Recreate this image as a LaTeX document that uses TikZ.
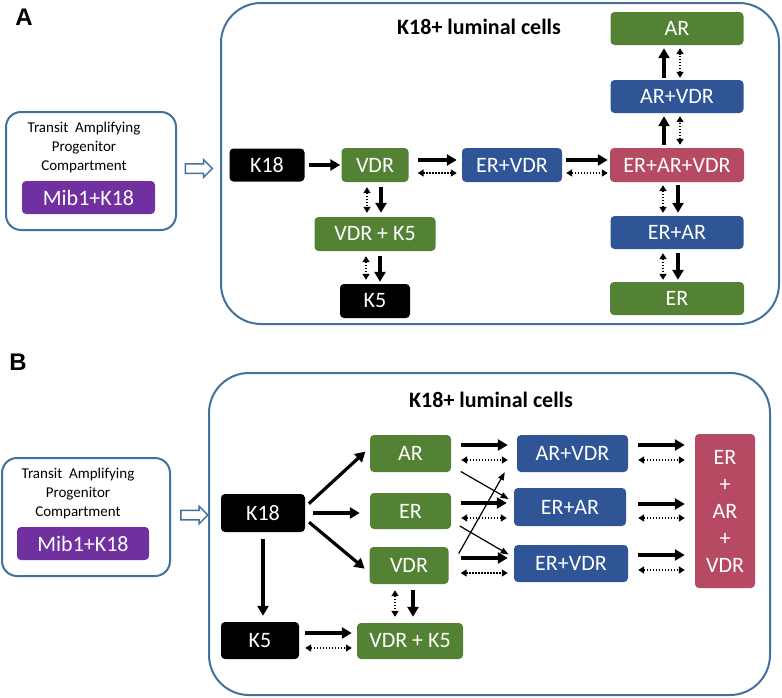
\documentclass[tikz,border=0pt]{standalone}
\usepackage{fontspec}
\setmainfont{Carlito}
\newfontfamily\panelfont{Liberation Sans}
\usepackage{xcolor}
\usetikzlibrary{shapes,arrows,arrows.meta,positioning,fit}
\definecolor{cellgreen}{HTML}{548235}
\definecolor{cellblue}{HTML}{2F5597}
\definecolor{cellred}{HTML}{B64A62}
\definecolor{cellpurple}{HTML}{7030A0}
\definecolor{framecol}{HTML}{41719C}

\begin{document}
\begin{tikzpicture}[
    x=1pt, y=-1pt,
    cell/.style={rectangle, rounded corners=4pt, text=white, inner sep=0pt, font=\fontsize{22}{26}\selectfont},
    greencell/.style={cell, fill=cellgreen},
    bluecell/.style={cell, fill=cellblue},
    redcell/.style={cell, fill=cellred},
    blackcell/.style={cell, fill=black},
    purplecell/.style={cell, fill=cellpurple},
    compartment/.style={rectangle, draw=framecol, line width=2pt, rounded corners=15pt},
    luminal/.style={rectangle, draw=framecol, line width=2pt, rounded corners=40pt},
    hollow/.style={single arrow, draw=framecol, line width=1.5pt, fill=white, inner sep=4pt, minimum width=17pt, minimum height=27pt, single arrow head extend=4pt},
    title/.style={font=\fontsize{22}{24}\selectfont\bfseries},
    panel/.style={font=\fontsize{24}{26}\selectfont\panelfont\bfseries},
    tatext/.style={font=\fontsize{15}{19}\selectfont, align=center},
    arrow/.style={line width=3.2pt, -{Triangle[length=10pt,width=11pt]}},
    twoway/.style={line width=1.8pt, dash pattern=on 1.6pt off 1.4pt, {Triangle[length=6pt,width=7pt]}-{Triangle[length=6pt,width=7pt]}},
    crossarrow/.style={line width=1.2pt, -{Triangle[length=8pt,width=6pt]}}
]
    \useasboundingbox (0,0) rectangle (782,697);

    % Panel A
    \node [panel] (labelA) at (24,17) {A};
    \node [compartment, minimum width=170pt, minimum height=118pt] (tapA) at (91,171) {};
    \node [tatext] (tatextA) at (84,147) {Transit\ \ Amplifying\\Progenitor\\Compartment};
    \node [purplecell, minimum width=133pt, minimum height=33pt] (mibA) at (88.5,197.5) {Mib1+K18};
    \node [hollow] (flowA) at (196.5,168.5) {};
    \node [luminal, minimum width=558pt, minimum height=321pt] (lumA) at (500,163.5) {};
    \node [title] (titleA) at (479,27) {K18+ luminal cells};

    % Row K18 - VDR - ER+VDR - ER+AR+VDR
    \node [blackcell, minimum width=75pt, minimum height=33pt] (k18A) at (267,165) {K18};
    \node [greencell, minimum width=67pt, minimum height=34pt] (vdrA) at (375,165) {VDR};
    \node [bluecell, minimum width=100pt, minimum height=34pt] (ervdrA) at (512,165) {ER+VDR};
    \node [redcell, minimum width=134pt, minimum height=34pt] (eravdrA) at (677,165) {ER+AR+VDR};
    \draw [arrow, shorten <=4pt, shorten >=1pt] (k18A) -- (vdrA);
    \draw [arrow, shorten <=9pt, shorten >=5pt] ([yshift=5pt]vdrA.east) -- ([yshift=5pt]ervdrA.west);
    \draw [twoway, shorten <=9pt, shorten >=5pt] ([yshift=-8pt]vdrA.east) -- ([yshift=-8pt]ervdrA.west);
    \draw [arrow, shorten <=4pt, shorten >=2pt] ([yshift=5pt]ervdrA.east) -- ([yshift=5pt]eravdrA.west);
    \draw [twoway, shorten <=4pt, shorten >=2pt] ([yshift=-8pt]ervdrA.east) -- ([yshift=-8pt]eravdrA.west);

    % Column below VDR
    \node [greencell, minimum width=121pt, minimum height=34pt] (vdrkA) at (375,234) {VDR + K5};
    \node [blackcell, minimum width=70pt, minimum height=34pt] (k5A) at (375,301) {K5};
    \draw [twoway, shorten <=5pt, shorten >=4pt] ([xshift=-8pt]vdrA.south) -- ([xshift=-8pt]vdrkA.north);
    \draw [arrow, shorten <=5pt, shorten >=4pt] ([xshift=6pt]vdrA.south) -- ([xshift=6pt]vdrkA.north);
    \draw [twoway, shorten <=5pt, shorten >=4pt] ([xshift=-9pt]vdrkA.south) -- ([xshift=-9pt]k5A.north);
    \draw [arrow, shorten <=5pt, shorten >=2pt] ([xshift=5pt]vdrkA.south) -- ([xshift=5pt]k5A.north);

    % Column through ER+AR+VDR
    \node [greencell, minimum width=133pt, minimum height=33pt] (arA) at (677,28.5) {AR};
    \node [bluecell, minimum width=133pt, minimum height=33pt] (arvdrA) at (677,96.5) {AR+VDR};
    \node [bluecell, minimum width=133pt, minimum height=33pt] (erarA) at (677,232.5) {ER+AR};
    \node [greencell, minimum width=134pt, minimum height=33pt] (erA) at (677,298.5) {ER};
    \draw [arrow, shorten <=3pt, shorten >=3pt] ([xshift=-13pt]eravdrA.north) -- ([xshift=-13pt]arvdrA.south);
    \draw [twoway, shorten <=3pt, shorten >=3pt] ([xshift=3pt]eravdrA.north) -- ([xshift=3pt]arvdrA.south);
    \draw [arrow, shorten <=2pt, shorten >=3pt] ([xshift=-13pt]arvdrA.north) -- ([xshift=-13pt]arA.south);
    \draw [twoway, shorten <=2pt, shorten >=3pt] ([xshift=3pt]arvdrA.north) -- ([xshift=3pt]arA.south);
    \draw [twoway, shorten <=3pt, shorten >=3pt] ([xshift=-14pt]eravdrA.south) -- ([xshift=-14pt]erarA.north);
    \draw [arrow, shorten <=3pt, shorten >=3pt] ([xshift=1pt]eravdrA.south) -- ([xshift=1pt]erarA.north);
    \draw [twoway, shorten <=4pt, shorten >=2pt] ([xshift=-14pt]erarA.south) -- ([xshift=-14pt]erA.north);
    \draw [arrow, shorten <=4pt, shorten >=2pt] ([xshift=1pt]erarA.south) -- ([xshift=1pt]erA.north);

    % Panel B
    \node [panel] (labelB) at (18,362) {B};
    \node [compartment, minimum width=168pt, minimum height=118pt] (tapB) at (86,517) {};
    \node [tatext] (tatextB) at (78,493) {Transit\ \ Amplifying\\Progenitor\\Compartment};
    \node [purplecell, minimum width=132pt, minimum height=33pt] (mibB) at (83,543.5) {Mib1+K18};
    \node [hollow] (flowB) at (192,515) {};
    \node [luminal, minimum width=561pt, minimum height=322pt] (lumB) at (489.5,534) {};
    \node [title] (titleB) at (491,400) {K18+ luminal cells};

    % Single markers
    \node [blackcell, minimum width=84pt, minimum height=38pt] (k18B) at (263,513) {K18};
    \node [blackcell, minimum width=78pt, minimum height=37pt] (k5B) at (260,640.5) {K5};
    \node [greencell, minimum width=81pt, minimum height=37pt] (arB) at (410.5,453.5) {AR};
    \node [greencell, minimum width=81pt, minimum height=36pt] (erB) at (410.5,511) {ER};
    \node [greencell, minimum width=79pt, minimum height=37pt] (vdrB) at (409,565.5) {VDR};
    \node [greencell, minimum width=106pt, minimum height=36pt] (vdrkB) at (410,641) {VDR + K5};

    % Double markers
    \node [bluecell, minimum width=111pt, minimum height=37pt] (arvdrB) at (572.5,453.5) {AR+VDR};
    \node [bluecell, minimum width=112pt, minimum height=38pt] (erarB) at (570,507) {ER+AR};
    \node [bluecell, minimum width=114pt, minimum height=37pt] (ervdrB) at (571,563.5) {ER+VDR};

    % Triple marker
    \node [redcell, minimum width=60pt, minimum height=154pt, align=center, font=\fontsize{22}{27}\selectfont] (allB) at (725,511) {ER\\+\\AR\\+\\VDR};

    % From K18
    \draw [arrow, shorten <=5pt, shorten >=6pt] ([yshift=6pt]k18B.east) -- ([yshift=6pt]arB.west);
    \draw [arrow, shorten <=8pt, shorten >=10pt] (k18B.east) -- (k18B.east -| erB.west);
    \draw [arrow, shorten <=5pt, shorten >=6pt] ([yshift=-6pt]k18B.east) -- ([yshift=-7pt]vdrB.west);
    \draw [arrow, shorten <=7pt, shorten >=6pt] (k18B.south) -- (k18B.south |- k5B.north);

    % K5 and VDR to VDR + K5
    \draw [arrow, shorten <=6pt, shorten >=5pt] ([yshift=7.5pt]k5B.east) -- ([yshift=7.5pt]k5B.east -| vdrkB.west);
    \draw [twoway, shorten <=6pt, shorten >=5pt] ([yshift=-7.5pt]k5B.east) -- ([yshift=-7.5pt]k5B.east -| vdrkB.west);
    \draw [twoway, shorten <=6pt, shorten >=6pt] ([xshift=-14pt]vdrB.south) -- ([xshift=-14pt]vdrB.south |- vdrkB.north);
    \draw [arrow, shorten <=6pt, shorten >=6pt] ([xshift=4pt]vdrB.south) -- ([xshift=4pt]vdrB.south |- vdrkB.north);

    % Single to double
    \draw [arrow, shorten <=10pt, shorten >=9pt] ([yshift=8.5pt]arB.east) -- ([yshift=8.5pt]arvdrB.west);
    \draw [twoway, shorten <=10pt, shorten >=9pt] ([yshift=-6.5pt]arB.east) -- ([yshift=-6.5pt]arvdrB.west);
    \draw [arrow, shorten <=10pt, shorten >=7pt] ([yshift=8pt]erB.east) -- ([yshift=8pt]erB.east -| erarB.west);
    \draw [twoway, shorten <=10pt, shorten >=7pt] ([yshift=-7pt]erB.east) -- ([yshift=-7pt]erB.east -| erarB.west);
    \draw [arrow, shorten <=12pt, shorten >=6pt] ([yshift=7.5pt]vdrB.east) -- ([yshift=7.5pt]vdrB.east -| ervdrB.west);
    \draw [twoway, shorten <=12pt, shorten >=6pt] ([yshift=-7.5pt]vdrB.east) -- ([yshift=-7.5pt]vdrB.east -| ervdrB.west);
    \draw [crossarrow, shorten <=11pt, shorten >=6pt] ([yshift=-12.5pt]arB.east) -- ([yshift=5pt]erarB.west);
    \draw [crossarrow, shorten <=10pt, shorten >=6pt] ([yshift=-10pt]erB.east) -- ([yshift=6pt]ervdrB.west);
    \draw [crossarrow] ([xshift=10pt,yshift=12pt]vdrB.east) -- ([xshift=-12pt]arvdrB.south west);

    % Double to triple
    \draw [arrow, shorten <=10pt, shorten >=10pt] ([yshift=8.5pt]arvdrB.east) -- ([yshift=8.5pt]arvdrB.east -| allB.west);
    \draw [twoway, shorten <=10pt, shorten >=10pt] ([yshift=-6.5pt]arvdrB.east) -- ([yshift=-6.5pt]arvdrB.east -| allB.west);
    \draw [arrow, shorten <=12pt, shorten >=10pt] ([yshift=3pt]erarB.east) -- ([yshift=3pt]erarB.east -| allB.west);
    \draw [twoway, shorten <=12pt, shorten >=10pt] ([yshift=-11pt]erarB.east) -- ([yshift=-11pt]erarB.east -| allB.west);
    \draw [arrow, shorten <=10pt, shorten >=10pt] ([yshift=8.5pt]ervdrB.east) -- ([yshift=8.5pt]ervdrB.east -| allB.west);
    \draw [twoway, shorten <=10pt, shorten >=10pt] ([yshift=-6.5pt]ervdrB.east) -- ([yshift=-6.5pt]ervdrB.east -| allB.west);
\end{tikzpicture}
\end{document}
